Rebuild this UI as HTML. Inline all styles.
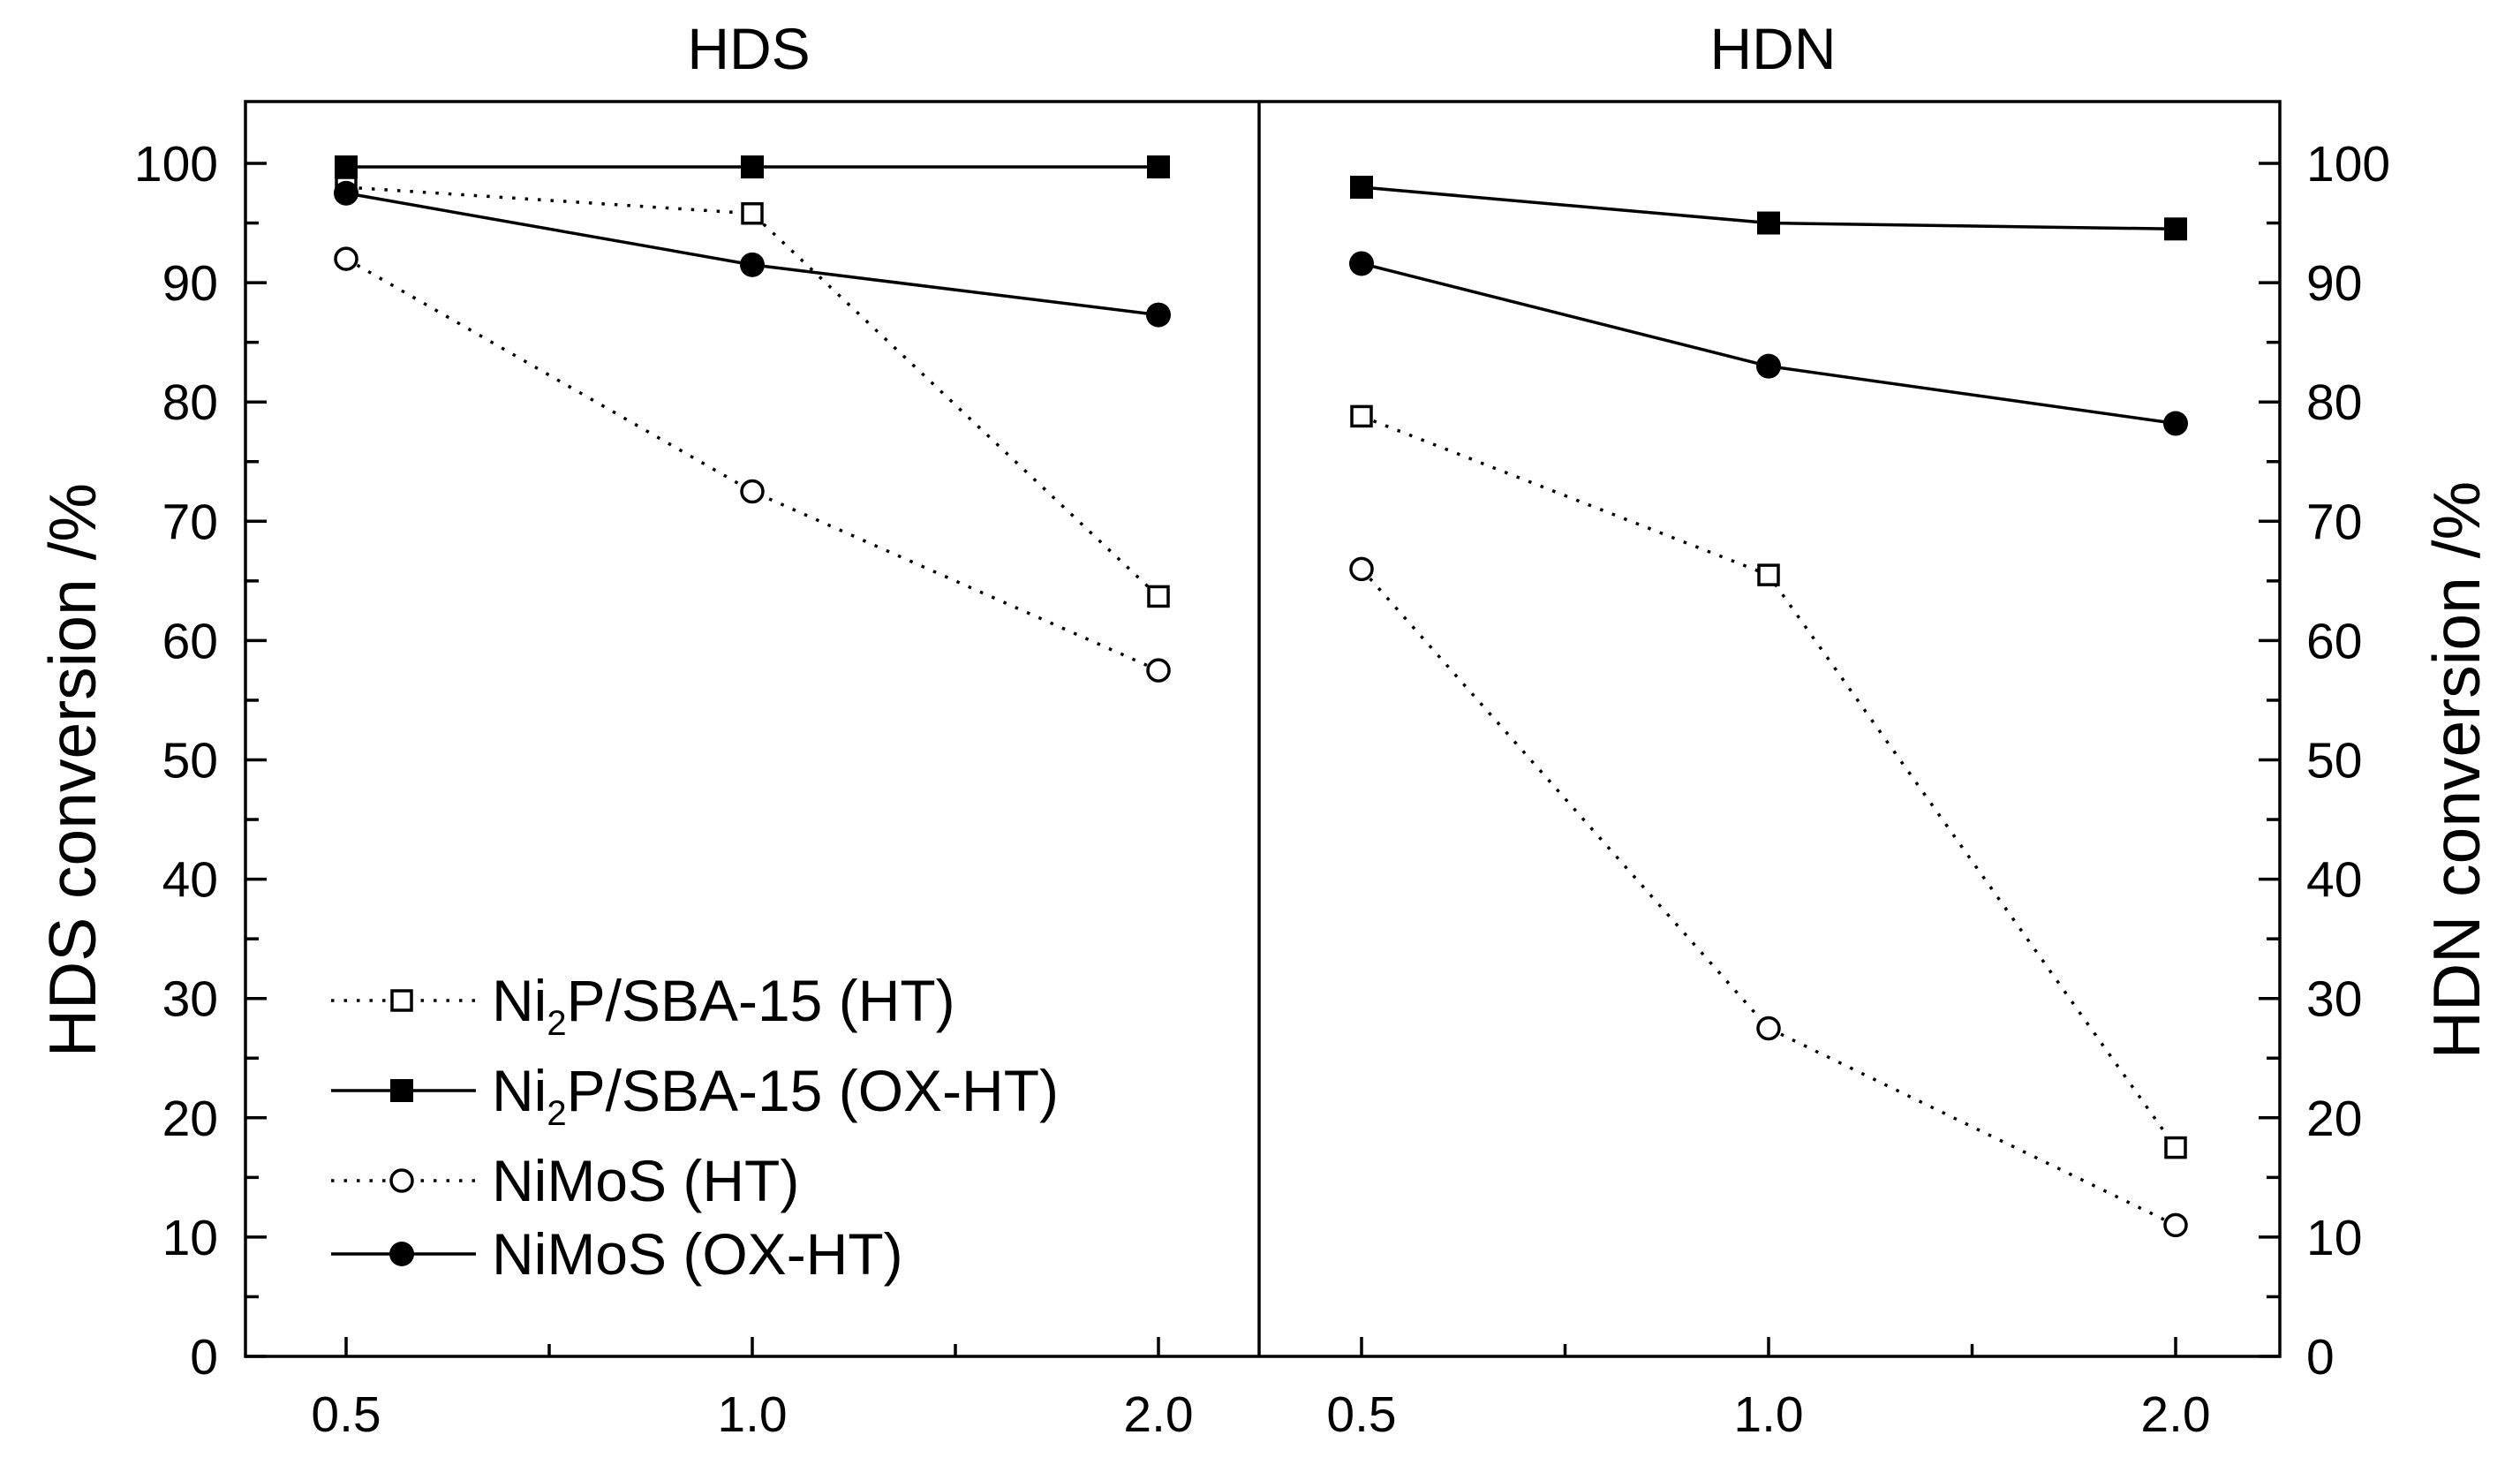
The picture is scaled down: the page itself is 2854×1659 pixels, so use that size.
<!DOCTYPE html>
<html><head><meta charset="utf-8"><style>
html,body{margin:0;padding:0;background:#fff;}
svg{display:block;font-family:"Liberation Sans",sans-serif;}
</style></head><body>
<svg id="chart" width="2854" height="1659" viewBox="0 0 2854 1659">
<g id="axes"></g><g id="marks"></g><g id="legend"></g>
</svg>
<script>
const categories = ["0.5","1.0","2.0"];
const yTicks = [0,10,20,30,40,50,60,70,80,90,100];
const panels = ["HDS","HDN"];
const seriesNames = ["Ni2P/SBA-15 (HT)","Ni2P/SBA-15 (OX-HT)","NiMoS (HT)","NiMoS (OX-HT)"];
const hdsNi2pHT = [98, 95.8, 63.7];
const hdsNi2pOX = [99.7, 99.7, 99.7];
const hdsNiMoSHT = [92, 72.5, 57.5];
const hdsNiMoSOX = [97.5, 91.5, 87.3];
const hdnNi2pHT = [78.8, 65.5, 17.5];
const hdnNi2pOX = [98, 95, 94.5];
const hdnNiMoSHT = [66, 27.5, 11];
const hdnNiMoSOX = [91.6, 83, 78.2];

const NS="http://www.w3.org/2000/svg";
function mk(tag,attrs,parent){const e=document.createElementNS(NS,tag);for(const k in attrs)e.setAttribute(k,attrs[k]);parent.appendChild(e);return e;}
const axesG=document.getElementById('axes'),marksG=document.getElementById('marks'),legG=document.getElementById('legend');
const plotTop=115,plotBot=1536,plotL=278,plotR=2582,divX=1426;
function yPos(v){return plotBot-(v/100)*(plotBot-185);}
const panelX=[{r:divX,x0:392,step:460},{r:plotR,x0:1542,step:461}];
function xs(p,i){return panelX[p].x0+i*panelX[p].step;}

let fr=mk('rect',{x:plotL,y:plotTop,width:plotR-plotL,height:plotBot-plotTop,fill:'none',stroke:'#000','stroke-width':3.5},axesG);


let dv=mk('line',{x1:divX,y1:plotTop,x2:divX,y2:plotBot,stroke:'#000','stroke-width':3.5},axesG);



for(let v=0;v<=100;v+=5){
  const major=v%10===0,len=major?24:15;
  mk('line',{x1:plotL,y1:yPos(v),x2:plotL+len,y2:yPos(v),stroke:'#000','stroke-width':3.5},axesG);
  mk('line',{x1:plotR,y1:yPos(v),x2:plotR-len,y2:yPos(v),stroke:'#000','stroke-width':3.5},axesG);
}
yTicks.forEach(v=>{
  let t=mk('text',{x:247,y:yPos(v)+20,'text-anchor':'end','font-size':57,fill:'#000'},axesG);t.textContent=v;
  
  
  let t2=mk('text',{x:2612,y:yPos(v)+20,'text-anchor':'start','font-size':57,fill:'#000'},axesG);t2.textContent=v;
  
  
});
for(let p=0;p<2;p++){
  for(let k=0;k<=4;k++){
    const xx=panelX[p].x0+k*panelX[p].step/2;
    if(xx<panelX[p].r) mk('line',{x1:xx,y1:plotBot,x2:xx,y2:plotBot-(k%2===0?22:14),stroke:'#000','stroke-width':3.5},axesG);
  }
  categories.forEach((c,i)=>{
    let t=mk('text',{x:xs(p,i),y:1621,'text-anchor':'middle','font-size':57,fill:'#000'},axesG);t.textContent=c;
    
    
  });
  let tt=mk('text',{x:p===0?848:2008,y:78,'text-anchor':'middle','font-size':66,fill:'#000'},axesG);tt.textContent=panels[p];
  
  
}
let yl=mk('text',{x:0,y:0,transform:'translate(108,872) rotate(-90)','text-anchor':'middle','font-size':75,fill:'#000'},axesG);yl.textContent='HDS conversion /%';


let yr=mk('text',{x:0,y:0,transform:'translate(2808,872) rotate(-90)','text-anchor':'middle','font-size':75,fill:'#000'},axesG);yr.textContent='HDN conversion /%';



function marker(type,cx,cy,parent){
  let e;
  if(type==='osq') e=mk('rect',{x:cx-11,y:cy-11,width:22,height:22,fill:'#fff',stroke:'#000','stroke-width':3.5},parent);
  if(type==='fsq') e=mk('rect',{x:cx-13,y:cy-13,width:26,height:26,fill:'#000'},parent);
  if(type==='oci') e=mk('circle',{cx:cx,cy:cy,r:12,fill:'#fff',stroke:'#000','stroke-width':3.5},parent);
  if(type==='fci') e=mk('circle',{cx:cx,cy:cy,r:14,fill:'#000'},parent);
  return e;
}
const styles=[{m:'osq',d:'3.5 11'},{m:'fsq',d:null},{m:'oci',d:'3.5 11'},{m:'fci',d:null}];
const data=[[hdsNi2pHT,hdsNi2pOX,hdsNiMoSHT,hdsNiMoSOX],[hdnNi2pHT,hdnNi2pOX,hdnNiMoSHT,hdnNiMoSOX]];
for(let p=0;p<2;p++){
  data[p].forEach((vals,s)=>{
    const pts=vals.map((v,i)=>xs(p,i)+','+yPos(v)).join(' ');
    const a={points:pts,fill:'none',stroke:'#000','stroke-width':3.5};
    if(styles[s].d)a['stroke-dasharray']=styles[s].d;
    let pl=mk('polyline',a,marksG);
    
    
  });
  data[p].forEach((vals,s)=>{
    vals.forEach((v,i)=>{
      let m=marker(styles[s].m,xs(p,i),yPos(v),marksG);
      
      
    });
  });
}
const legY=[1133,1235,1337,1420];
legY.forEach((ly,s)=>{
  const g=mk('g',{},legG);
  
  
  const a={x1:375,y1:ly,x2:539,y2:ly,stroke:'#000','stroke-width':3.5};
  if(styles[s].d)a['stroke-dasharray']=styles[s].d;
  mk('line',a,g);
  marker(styles[s].m,455,ly,g);
  const t=mk('text',{x:557,y:ly+23,'font-size':66,fill:'#000'},g);
  const nm=seriesNames[s];
  if(nm.indexOf('Ni2P')===0){
    const a1=mk('tspan',{},t);a1.textContent='Ni';
    const a2=mk('tspan',{'font-size':40,dy:16},t);a2.textContent='2';
    const a3=mk('tspan',{dy:-16},t);a3.textContent=nm.slice(3);
  } else t.textContent=nm;
});
</script>
</body></html>
